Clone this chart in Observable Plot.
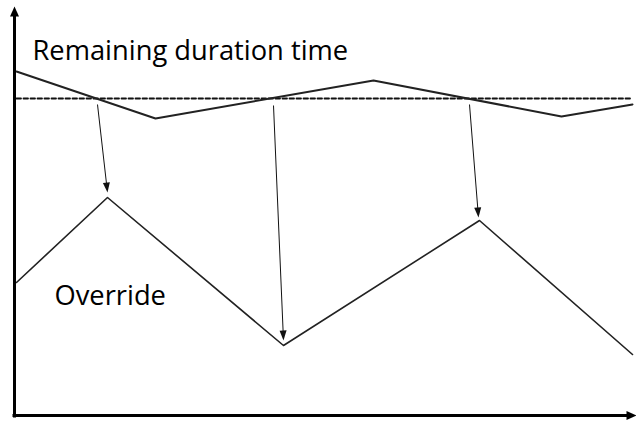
<!DOCTYPE html>
<html><head><meta charset="utf-8">
<script src="https://cdn.jsdelivr.net/npm/d3@7"></script>
<script src="https://cdn.jsdelivr.net/npm/@observablehq/plot@0.6"></script>
<style>html,body{margin:0;padding:0;background:#fff}</style>
</head><body><div id="chart"></div>
<script>
// Values (time on x, level on y; origin at the axes corner)
const remainingX = [2, 141, 359, 547, 618];
const remainingY = [344, 297, 335, 299, 311];
const thresholdX = [2, 618];
const thresholdY = [317, 317];
const overrideX = [2, 93, 269, 465, 618];
const overrideY = [133, 218, 70, 195, 61];
const arrowFromX = [83, 259, 455];
const arrowFromY = [311, 310, 311];
const arrowToX = [93, 269, 464];
const arrowToY = [223, 75, 198];
const labelText = ["Remaining duration time", "Override"];
const labelX = [18, 40];
const labelY = [356, 111];
const axisFromX = [0, -2];
const axisFromY = [-2, 0];
const axisToX = [0, 622];
const axisToY = [409, 0];

const zip = (xs, ys) => xs.map((x, i) => ({x, y: ys[i]}));
const remaining = zip(remainingX, remainingY);
const threshold = zip(thresholdX, thresholdY);
const override = zip(overrideX, overrideY);
const arrows = arrowFromX.map((x, i) => ({x1: x, y1: arrowFromY[i], x2: arrowToX[i], y2: arrowToY[i]}));
const axes = axisFromX.map((x, i) => ({x1: x, y1: axisFromY[i], x2: axisToX[i], y2: axisToY[i]}));
const labels = labelText.map((t, i) => ({t, x: labelX[i], y: labelY[i]}));

function headSymbol(L, W) {
  return {draw(ctx) { ctx.moveTo(0, 0); ctx.lineTo(-W / 2, L); ctx.lineTo(W / 2, L); ctx.closePath(); }};
}
const angle = d => Math.atan2(d.x2 - d.x1, d.y2 - d.y1) * 180 / Math.PI;
const shorten = (d, k) => { const dx = d.x2 - d.x1, dy = d.y2 - d.y1, l = Math.hypot(dx, dy); return {x: d.x2 - dx / l * k, y: d.y2 - dy / l * k}; };

const chart = Plot.plot({
  width: 636, height: 424,
  margin: 0,
  x: {domain: [-14, 622], range: [0, 636], axis: null},
  y: {domain: [-9, 415], range: [424, 0], axis: null},
  style: {background: "#fff"},
  marks: [
    Plot.line(threshold, {x: "x", y: "y", stroke: "#111", strokeWidth: 1.8, strokeDasharray: "4.5,2.5"}),
    Plot.line(remaining, {x: "x", y: "y", stroke: "#222", strokeWidth: 2}),
    Plot.line(override, {x: "x", y: "y", stroke: "#222", strokeWidth: 1.6}),
    Plot.link(arrows, {x1: "x1", y1: "y1", x2: d => shorten(d, 4).x, y2: d => shorten(d, 4).y, stroke: "#111", strokeWidth: 1}),
    Plot.dot(arrows, {x: "x2", y: "y2", rotate: angle, symbol: headSymbol(10, 7), r: 5, fill: "#111", stroke: "none"}),
    Plot.link(axes, {x1: "x1", y1: "y1", x2: d => shorten(d, 5).x, y2: d => shorten(d, 5).y, stroke: "#000", strokeWidth: 3}),
    Plot.dot(axes, {x: "x2", y: "y2", rotate: angle, symbol: headSymbol(10, 9), r: 5, fill: "#000", stroke: "none"}),
    Plot.text(labels, {x: "x", y: "y", text: "t", textAnchor: "start", lineAnchor: "bottom", fontSize: 27.3, fontFamily: "Open Sans", fill: "#000"})
  ]
});
document.getElementById("chart").appendChild(chart);
</script>
</body></html>
